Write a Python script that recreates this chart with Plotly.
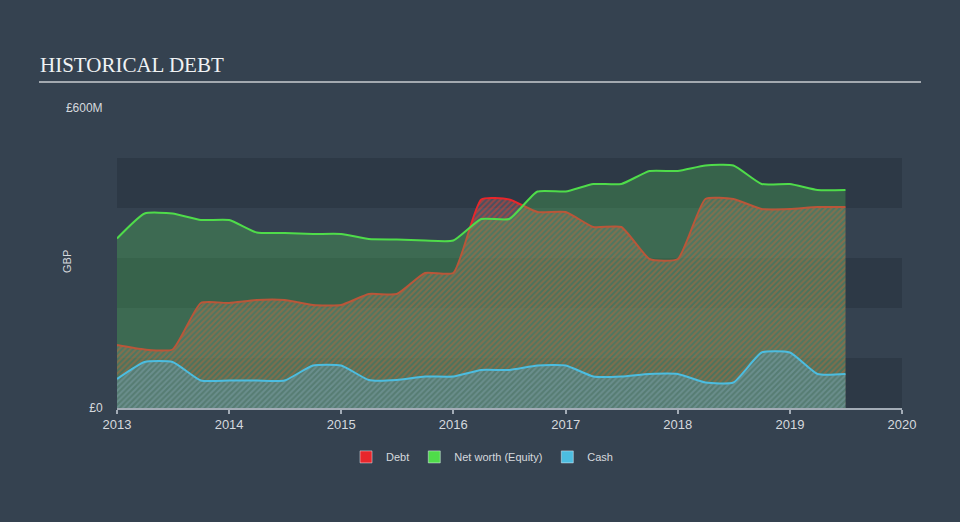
import plotly.graph_objects as go

# quarterly points (semi-annual reports, held flat in between)
dates = [
    "2013-01-01", "2013-04-01", "2013-07-01", "2013-10-01",
    "2014-01-01", "2014-04-01", "2014-07-01", "2014-10-01",
    "2015-01-01", "2015-04-01", "2015-07-01", "2015-10-01",
    "2016-01-01", "2016-04-01", "2016-07-01", "2016-10-01",
    "2017-01-01", "2017-04-01", "2017-07-01", "2017-10-01",
    "2018-01-01", "2018-04-01", "2018-07-01", "2018-10-01",
    "2019-01-01", "2019-04-01", "2019-07-01",
]
debt = [
    126, 117, 117, 210, 210, 216, 216, 206, 206, 228, 228, 270, 270, 417,
    417, 392, 392, 362, 362, 298, 298, 418, 418, 398, 398, 402, 402,
]
equity = [
    339, 389, 389, 376, 376, 351, 350, 348, 348, 338, 337, 335, 335, 378,
    378, 433, 433, 448, 448, 474, 474, 485, 485, 448, 448, 436, 436,
]
cash = [
    58, 92, 92, 55, 55, 55, 55, 85, 85, 56, 56, 63, 63, 76,
    76, 85, 85, 63, 63, 68, 68, 51, 51, 111, 111, 68, 68,
]
year_ticks = ["2013", "2014", "2015", "2016", "2017", "2018", "2019", "2020"]

RED = "#e8262b"
GREEN = "#4fdc4a"
BLUE = "#4cbde0"
TXT = "#d5d9de"

fig = go.Figure()

fig.add_trace(go.Scatter(
    x=dates, y=debt, mode="lines", showlegend=False,
    line=dict(color=RED, width=2, shape="spline", smoothing=0.5),
    fill="tozeroy", fillcolor="rgba(110,115,135,0.4)",
    fillpattern=dict(shape="/", size=4, solidity=0.5,
                     fgcolor="rgba(240,60,40,0.95)",
                     bgcolor="rgba(110,115,135,0.4)"),
))
fig.add_trace(go.Scatter(
    x=dates, y=equity, mode="lines", showlegend=False,
    line=dict(color=GREEN, width=2, shape="spline", smoothing=0.5),
    fill="tozeroy", fillcolor="rgba(80,200,90,0.3)",
))
fig.add_trace(go.Scatter(
    x=dates, y=cash, mode="lines", showlegend=False,
    line=dict(color=BLUE, width=2, shape="spline", smoothing=0.5),
    fill="tozeroy", fillcolor="rgba(76,189,224,0.25)",
    fillpattern=dict(shape="/", size=4, solidity=0.45,
                     fgcolor="rgba(76,189,224,0.65)",
                     bgcolor="rgba(100,140,150,0.4)"),
))

# legend swatches
for name, col in [("Debt", RED), ("Net worth (Equity)", GREEN), ("Cash", BLUE)]:
    fig.add_trace(go.Bar(x=[None], y=[None], name=name, marker_color=col))

# background bands
shapes = []
for lo in [0, 200, 400]:
    shapes.append(dict(type="rect", xref="paper", yref="y", x0=0, x1=1,
                       y0=lo, y1=lo + 100, fillcolor="rgba(25,35,48,0.28)",
                       line_width=0, layer="below"))
# title underline
shapes.append(dict(type="line", xref="paper", yref="paper",
                   x0=-78 / 785, x1=804 / 785, y0=326 / 300, y1=326 / 300,
                   line=dict(color="#a3a9b0", width=2)))

fig.update_layout(
    width=960, height=522,
    margin=dict(l=117, r=58, t=108, b=114),
    paper_bgcolor="#354250", plot_bgcolor="rgba(0,0,0,0)",
    font=dict(family="Liberation Sans, Arial, sans-serif", color=TXT, size=12),
    shapes=shapes,
    showlegend=True,
    legend=dict(orientation="h", x=0.465, xanchor="center", y=-0.163,
                yanchor="middle", font=dict(size=11, color=TXT),
                bgcolor="rgba(0,0,0,0)"),
    annotations=[
        dict(text="HISTORICAL DEBT", xref="paper", yref="paper",
             x=-79 / 785, y=329 / 300, xanchor="left", yanchor="bottom",
             showarrow=False,
             font=dict(family="Liberation Serif, Times New Roman, serif",
                       size=21, color="#f0f2f4")),
        dict(text="GBP", xref="paper", yref="paper", x=-58 / 785,
             y=146 / 300, textangle=-90, showarrow=False,
             font=dict(size=11, color=TXT)),
    ],
)

fig.update_xaxes(
    type="date", range=["2013-01-01", "2020-01-01"],
    tickvals=[f"{y}-01-01" for y in year_ticks], ticktext=year_ticks,
    showgrid=False, zeroline=False,
    showline=True, linecolor="#a3acb6", linewidth=1.5,
    ticks="outside", ticklen=4, tickcolor="#a3acb6", tickwidth=1.5,
    tickfont=dict(size=13, color=TXT),
)
fig.update_yaxes(
    range=[0, 600], tickvals=[0, 600], ticktext=["£0", "£600M"],
    showgrid=False, zeroline=False, showline=False,
    ticks="outside", ticklen=11, tickcolor="rgba(0,0,0,0)",
    tickfont=dict(size=12, color=TXT),
)

fig.write_html("out.html", config={"displayModeBar": False},
               post_script="document.body.style.margin='0';")
